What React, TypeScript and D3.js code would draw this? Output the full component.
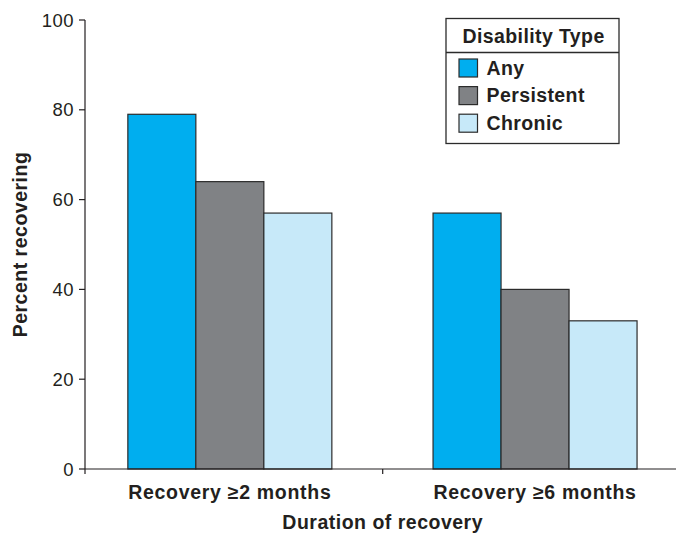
import React from "react";
import * as d3 from "d3";

const categories = ["Recovery \u22652 months", "Recovery \u22656 months"];
const seriesNames = ["Any", "Persistent", "Chronic"];
const anyValues = [79, 57];
const persistentValues = [64, 40];
const chronicValues = [57, 33];
const yTicks = [0, 20, 40, 60, 80, 100];
const colors = ["#00AEEF", "#808285", "#C7E9F9"];

const W = 676;
const H = 535;
const FONT = "'Liberation Sans', Arial, Helvetica, sans-serif";
const TEXT = "#231F20";

export default function App() {
  const series = [anyValues, persistentValues, chronicValues];
  const x0 = d3.scaleBand<string>().domain(categories).range([85, 680.4]).padding(0);
  const bw = x0.bandwidth();
  const x1 = d3
    .scaleBand<string>()
    .domain(seriesNames)
    .range([(bw - 204) / 2, (bw + 204) / 2])
    .padding(0);
  const y = d3.scaleLinear().domain([0, 100]).range([469, 20]);
  const offsets = [-4, 3.5];

  return (
    <svg
      width={W}
      height={H}
      style={{ position: "absolute", left: 0, top: 0, background: "#fff" }}
      fontFamily={FONT}
    >
      {/* bars */}
      {categories.map((c, ci) => (
        <g key={c} transform={`translate(${(x0(c) ?? 0) + offsets[ci]},0)`}>
          {seriesNames.map((s, si) => (
            <rect
              key={s}
              x={x1(s)}
              y={y(series[si][ci])}
              width={x1.bandwidth()}
              height={y(0) - y(series[si][ci])}
              fill={colors[si]}
              stroke="#2b2b2b"
              strokeWidth={1.2}
            />
          ))}
        </g>
      ))}

      {/* y axis */}
      <line x1={85} x2={85} y1={y(100)} y2={y(0)} stroke={TEXT} strokeWidth={1.2} />
      {yTicks.map((t) => (
        <g key={t}>
          <line x1={79} x2={85} y1={y(t)} y2={y(t)} stroke={TEXT} strokeWidth={1.2} />
          <text
            x={74}
            y={y(t)}
            dy="0.36em"
            textAnchor="end"
            fontSize={18.5}
            fill={TEXT}
            letterSpacing={0.5}
          >
            {t}
          </text>
        </g>
      ))}

      {/* x axis */}
      <line x1={85} x2={680.4} y1={y(0)} y2={y(0)} stroke={TEXT} strokeWidth={1.2} />
      {[...categories.map((c) => x0(c) ?? 0), 680.4].map((v, i) => (
        <line key={i} x1={v} x2={v} y1={y(0)} y2={y(0) + 5} stroke={TEXT} strokeWidth={1.2} />
      ))}
      {categories.map((c, ci) => (
        <text
          key={c}
          x={(x0(c) ?? 0) + bw / 2 + offsets[ci]}
          y={498.5}
          textAnchor="middle"
          fontSize={19.5}
          fontWeight="bold"
          fill={TEXT}
          letterSpacing={0.7}
        >
          {c}
        </text>
      ))}
      <text
        x={(85 + 680.4) / 2}
        y={529}
        textAnchor="middle"
        fontSize={19.5}
        fontWeight="bold"
        fill={TEXT}
        letterSpacing={0.5}
      >
        Duration of recovery
      </text>
      <text
        transform={`translate(27,${(y(0) + y(100)) / 2}) rotate(-90)`}
        textAnchor="middle"
        fontSize={19.5}
        fontWeight="bold"
        fill={TEXT}
        letterSpacing={0.5}
      >
        Percent recovering
      </text>

      {/* legend */}
      <g>
        <rect x={446} y={18.5} width={173} height={125} fill="#fff" stroke="#2b2b2b" strokeWidth={1.3} />
        <line x1={446} x2={619} y1={52.5} y2={52.5} stroke="#2b2b2b" strokeWidth={1.3} />
        <text x={462.5} y={43} fontSize={19.5} fontWeight="bold" fill={TEXT} letterSpacing={0.4}>
          Disability Type
        </text>
        {seriesNames.map((s, i) => (
          <g key={s} transform={`translate(0,${i * 27.6})`}>
            <rect x={459} y={59} width={18.5} height={18} fill={colors[i]} stroke="#2b2b2b" strokeWidth={1.2} />
            <text x={486.5} y={74.5} fontSize={19.5} fontWeight="bold" fill={TEXT} letterSpacing={0.4}>
              {s}
            </text>
          </g>
        ))}
      </g>
    </svg>
  );
}
